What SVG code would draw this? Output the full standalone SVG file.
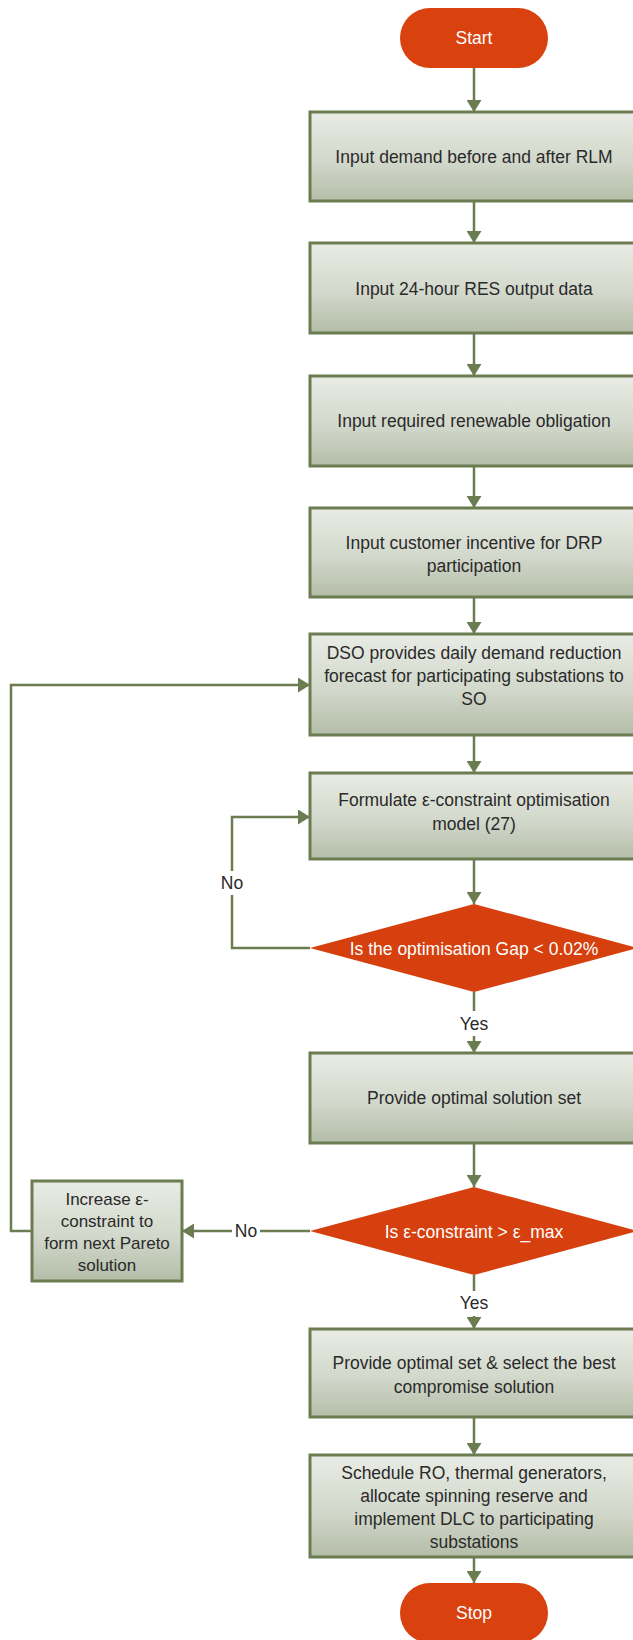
<svg xmlns="http://www.w3.org/2000/svg" width="633" height="1640" viewBox="0 0 633 1640">
<style>
.box{fill:url(#g);stroke:#6b7c50;stroke-width:3}
.term{fill:#d9420f}
.dia{fill:#d5400e}
.t{font-family:"Liberation Sans",Arial,sans-serif;font-size:17.5px;fill:#2a2a2a;text-anchor:middle;dominant-baseline:central}
.s{font-size:17px}
.w{fill:#ffffff}
.c{fill:none;stroke:#6b7c50;stroke-width:2.5}
.ca{fill:none;stroke:#6b7c50;stroke-width:2.5;marker-end:url(#ah)}
</style>
<defs>
<linearGradient id="g" x1="0" y1="0" x2="0" y2="1">
<stop offset="0" stop-color="#e9ece5"/>
<stop offset="0.55" stop-color="#d2d8cb"/>
<stop offset="1" stop-color="#b4bda8"/>
</linearGradient>
<marker id="ah" viewBox="0 0 12 15" refX="12" refY="7.5" markerWidth="12" markerHeight="15" markerUnits="userSpaceOnUse" orient="auto">
<path d="M0,0 L12,7.5 L0,15 z" fill="#6b7c50"/>
</marker>
</defs>
<g id="connectors">
<line class="ca" x1="474" y1="68" x2="474" y2="112"/>
<line class="ca" x1="474" y1="201" x2="474" y2="243"/>
<line class="ca" x1="474" y1="333" x2="474" y2="376"/>
<line class="ca" x1="474" y1="466" x2="474" y2="508"/>
<line class="ca" x1="474" y1="597" x2="474" y2="634"/>
<line class="ca" x1="474" y1="735" x2="474" y2="773"/>
<line class="ca" x1="474" y1="859" x2="474" y2="904"/>
<line class="c" x1="474" y1="992" x2="474" y2="1011"/>
<line class="ca" x1="474" y1="1036" x2="474" y2="1053"/>
<line class="ca" x1="474" y1="1143" x2="474" y2="1187"/>
<line class="c" x1="474" y1="1275" x2="474" y2="1291"/>
<line class="ca" x1="474" y1="1316" x2="474" y2="1329"/>
<line class="ca" x1="474" y1="1417" x2="474" y2="1455"/>
<line class="ca" x1="474" y1="1557" x2="474" y2="1583"/>
<polyline class="c" points="310,948 232,948 232,895"/>
<polyline class="ca" points="232,871 232,817 310,817"/>
<line class="c" x1="310" y1="1231" x2="260" y2="1231"/>
<line class="ca" x1="232" y1="1231" x2="182" y2="1231"/>
<polyline class="ca" points="32,1231 11,1231 11,685 310,685"/>
<text class="t" x="474" y="1024">Yes</text>
<text class="t" x="474" y="1303">Yes</text>
<text class="t" x="232" y="883">No</text>
<text class="t" x="246" y="1231">No</text>
</g>
<g id="start">
<rect class="term" x="400" y="8" width="148" height="60" rx="30"/>
<text class="t w" x="474" y="38">Start</text>
</g>
<g id="n1">
<rect class="box" x="310" y="112" width="330" height="89"/>
<text class="t" x="474" y="157">Input demand before and after RLM</text>
</g>
<g id="n2">
<rect class="box" x="310" y="243" width="330" height="90"/>
<text class="t" x="474" y="289">Input 24-hour RES output data</text>
</g>
<g id="n3">
<rect class="box" x="310" y="376" width="330" height="90"/>
<text class="t" x="474" y="421">Input required renewable obligation</text>
</g>
<g id="n4">
<rect class="box" x="310" y="508" width="330" height="89"/>
<text class="t" x="474" y="543">Input customer incentive for DRP</text>
<text class="t" x="474" y="566">participation</text>
</g>
<g id="n5">
<rect class="box" x="310" y="634" width="330" height="101"/>
<text class="t" x="474" y="653">DSO provides daily demand reduction</text>
<text class="t" x="474" y="676">forecast for participating substations to</text>
<text class="t" x="474" y="699">SO</text>
</g>
<g id="n6">
<rect class="box" x="310" y="773" width="330" height="86"/>
<text class="t" x="474" y="800">Formulate ε-constraint optimisation</text>
<text class="t" x="474" y="824">model (27)</text>
</g>
<g id="d1">
<polygon class="dia" points="474,904 638,948 474,992 310,948"/>
<text class="t w" x="474" y="949">Is the optimisation Gap &lt; 0.02%</text>
</g>
<g id="n7">
<rect class="box" x="310" y="1053" width="330" height="90"/>
<text class="t" x="474" y="1098">Provide optimal solution set</text>
</g>
<g id="d2">
<polygon class="dia" points="474,1187 638,1231 474,1275 310,1231"/>
<text class="t w" x="474" y="1232">Is ε-constraint &gt; ε_max</text>
</g>
<g id="n8">
<rect class="box" x="32" y="1181" width="150" height="100"/>
<text class="t s" x="107" y="1199">Increase ε-</text>
<text class="t s" x="107" y="1221">constraint to</text>
<text class="t s" x="107" y="1243">form next Pareto</text>
<text class="t s" x="107" y="1265">solution</text>
</g>
<g id="n9">
<rect class="box" x="310" y="1329" width="330" height="88"/>
<text class="t" x="474" y="1363">Provide optimal set &amp; select the best</text>
<text class="t" x="474" y="1387">compromise solution</text>
</g>
<g id="n10">
<rect class="box" x="310" y="1455" width="330" height="102"/>
<text class="t" x="474" y="1473">Schedule RO, thermal generators,</text>
<text class="t" x="474" y="1496">allocate spinning reserve and</text>
<text class="t" x="474" y="1519">implement DLC to participating</text>
<text class="t" x="474" y="1542">substations</text>
</g>
<g id="stop">
<rect class="term" x="400" y="1583" width="148" height="60" rx="30"/>
<text class="t w" x="474" y="1613">Stop</text>
</g>
</svg>
